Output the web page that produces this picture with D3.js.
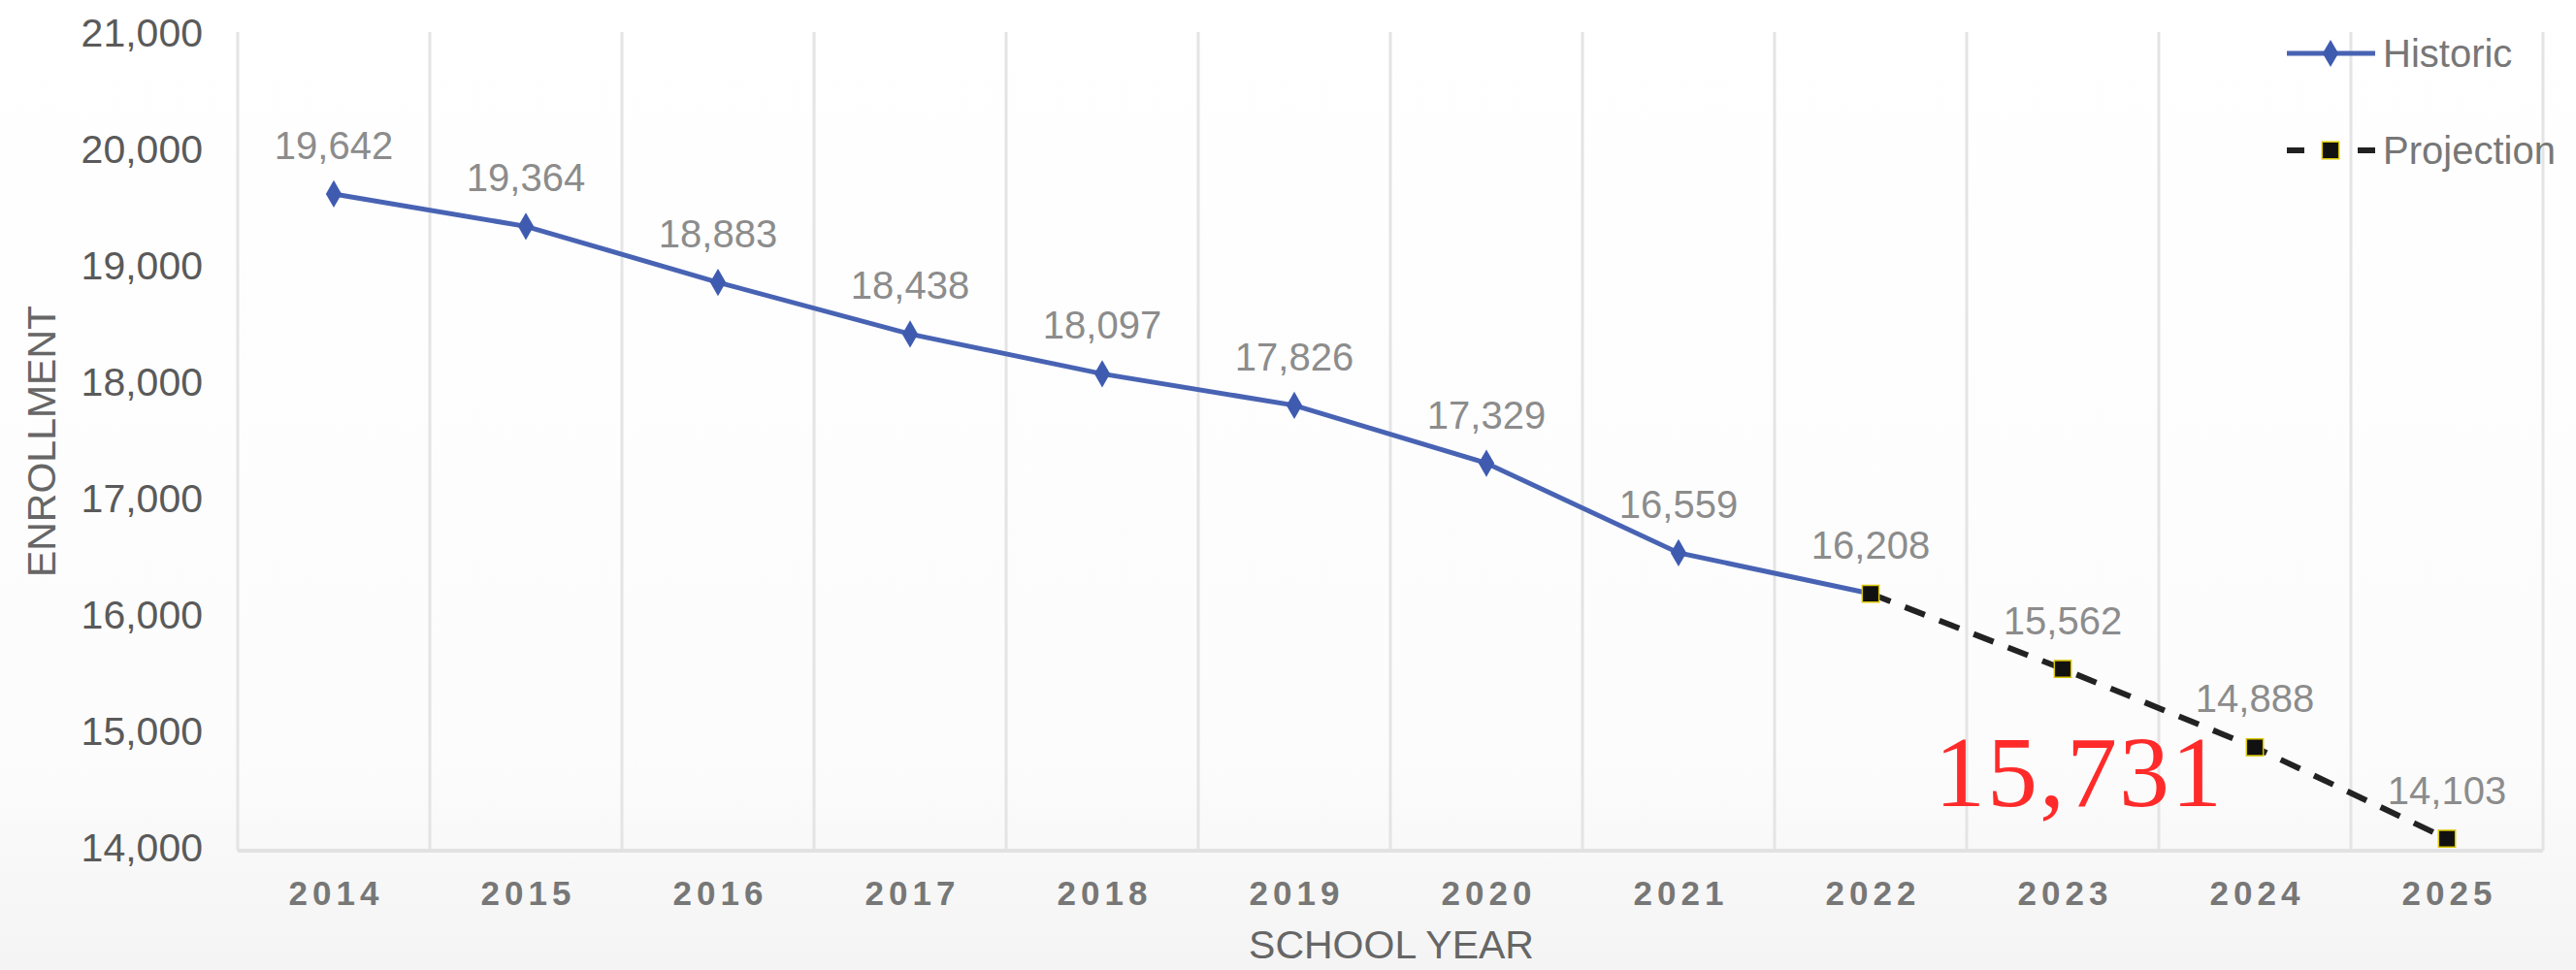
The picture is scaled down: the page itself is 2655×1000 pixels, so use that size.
<!DOCTYPE html>
<html>
<head>
<meta charset="utf-8">
<script src="https://cdn.jsdelivr.net/npm/d3@7"></script>
<style>
  body { margin: 0; background: #fff; }
  svg { display: block; }
</style>
</head>
<body>
<svg id="chart"></svg>
<script>
const years = ["2014", "2015", "2016", "2017", "2018", "2019", "2020", "2021", "2022", "2023", "2024", "2025"];
const historicYears = ["2014", "2015", "2016", "2017", "2018", "2019", "2020", "2021", "2022"];
const historicValues = [19642, 19364, 18883, 18438, 18097, 17826, 17329, 16559, 16208];
const projectionYears = ["2022", "2023", "2024", "2025"];
const projectionValues = [16208, 15562, 14888, 14103];
const yTicks = [14000, 15000, 16000, 17000, 18000, 19000, 20000, 21000];
const seriesNames = ["Historic", "Projection"];
const annotation = "15,731";

const width = 2655;
const height = 1000;
const margin = { top: 37, right: 34, bottom: 123, left: 245 };

const svg = d3.select("#chart").attr("width", width).attr("height", height);

// fond legerement grise vers le bas
const defs = svg.append("defs");
const grad = defs.append("linearGradient").attr("id", "bg").attr("x1", 0).attr("y1", 0).attr("x2", 0).attr("y2", 1);
grad.append("stop").attr("offset", "0%").attr("stop-color", "#ffffff");
grad.append("stop").attr("offset", "78%").attr("stop-color", "#fcfcfc");
grad.append("stop").attr("offset", "100%").attr("stop-color", "#f4f4f4");
svg.append("rect").attr("width", width).attr("height", height).attr("fill", "url(#bg)");

const x = d3.scaleBand()
  .domain(years)
  .range([margin.left, width - margin.right])
  .padding(0);

const y = d3.scaleLinear()
  .domain([14000, 21000])
  .range([height - margin.bottom, margin.top]);

const cx = (d) => x(d) + x.bandwidth() / 2;

// grille verticale (limites des categories)
const bounds = years.map((d) => x(d)).concat([x(years[years.length - 1]) + x.bandwidth()]);
svg.append("g")
  .selectAll("line")
  .data(bounds)
  .join("line")
  .attr("x1", (d) => d)
  .attr("x2", (d) => d)
  .attr("y1", y(21000) - 4)
  .attr("y2", y(14000))
  .attr("stroke", "#e4e4e4")
  .attr("stroke-width", 3);

svg.append("line")
  .attr("x1", margin.left)
  .attr("x2", width - margin.right)
  .attr("y1", y(14000))
  .attr("y2", y(14000))
  .attr("stroke", "#e2e2e2")
  .attr("stroke-width", 4);

// axe Y
const yAxis = svg.append("g")
  .attr("transform", `translate(${margin.left - 33},0)`)
  .call(d3.axisLeft(y).tickValues(yTicks).tickSize(0).tickFormat(d3.format(",")));
yAxis.select(".domain").remove();
yAxis.selectAll("text")
  .attr("font-family", "Liberation Sans, Arial, sans-serif")
  .attr("font-size", "41px")
  .attr("fill", "#5a5a5a")
  .attr("dy", "0.25em");

// axe X
const xAxis = svg.append("g")
  .attr("transform", `translate(0,${y(14000)})`)
  .call(d3.axisBottom(x).tickSize(0));
xAxis.select(".domain").remove();
xAxis.selectAll("text")
  .attr("font-family", "Liberation Sans, Arial, sans-serif")
  .attr("font-size", "35px")
  .attr("font-weight", "bold")
  .attr("letter-spacing", "5px")
  .attr("fill", "#777")
  .attr("y", 56)
  .attr("dy", 0)
  .attr("dx", "2.5px");

// titres des axes
svg.append("text")
  .attr("x", 1434)
  .attr("y", 988)
  .attr("text-anchor", "middle")
  .attr("font-family", "Liberation Sans, Arial, sans-serif")
  .attr("font-size", "41px")
  .attr("fill", "#666")
  .text("SCHOOL YEAR");

svg.append("text")
  .attr("transform", `translate(57,455) rotate(-90)`)
  .attr("text-anchor", "middle")
  .attr("font-family", "Liberation Sans, Arial, sans-serif")
  .attr("font-size", "41px")
  .attr("fill", "#666")
  .text("ENROLLMENT");

// series
const historic = historicYears.map((d, i) => ({ year: d, value: historicValues[i] }));
const projection = projectionYears.map((d, i) => ({ year: d, value: projectionValues[i] }));

const line = d3.line().x((d) => cx(d.year)).y((d) => y(d.value));

svg.append("path")
  .datum(historic)
  .attr("d", line)
  .attr("fill", "none")
  .attr("stroke", "#4863b3")
  .attr("stroke-width", 5);

svg.append("path")
  .datum(projection)
  .attr("d", line)
  .attr("fill", "none")
  .attr("stroke", "#222")
  .attr("stroke-width", 6)
  .attr("stroke-dasharray", "22,16");

const diamond = d3.symbol().type(d3.symbolDiamond).size(230);
const square = d3.symbol().type(d3.symbolSquare).size(300);

svg.append("g")
  .selectAll("path")
  .data(historic.slice(0, -1))
  .join("path")
  .attr("transform", (d) => `translate(${cx(d.year)},${y(d.value)})`)
  .attr("d", diamond)
  .attr("fill", "#3f5bb0");

svg.append("g")
  .selectAll("path")
  .data(projection)
  .join("path")
  .attr("transform", (d) => `translate(${cx(d.year)},${y(d.value)})`)
  .attr("d", square)
  .attr("fill", "#111")
  .attr("stroke", "#d9c500")
  .attr("stroke-width", 1.5);

// etiquettes des valeurs
const allPoints = historic.concat(projection.slice(1));
svg.append("g")
  .selectAll("text")
  .data(allPoints)
  .join("text")
  .attr("x", (d) => cx(d.year))
  .attr("y", (d) => y(d.value) - 36)
  .attr("text-anchor", "middle")
  .attr("font-family", "Liberation Sans, Arial, sans-serif")
  .attr("font-size", "40px")
  .attr("fill", "#8c8c8c")
  .text((d) => d3.format(",")(d.value));

// legende
const legend = svg.append("g");
const lx0 = 2357, lx1 = 2448, lmid = 2402;

legend.append("line")
  .attr("x1", lx0).attr("x2", lx1).attr("y1", 55).attr("y2", 55)
  .attr("stroke", "#4863b3").attr("stroke-width", 5);
legend.append("path")
  .attr("transform", `translate(${lmid},55)`)
  .attr("d", diamond)
  .attr("fill", "#3f5bb0");

legend.append("line")
  .attr("x1", lx0).attr("x2", lx1).attr("y1", 155).attr("y2", 155)
  .attr("stroke", "#222").attr("stroke-width", 6)
  .attr("stroke-dasharray", "18,55,18");
legend.append("path")
  .attr("transform", `translate(${lmid},155)`)
  .attr("d", square)
  .attr("fill", "#111")
  .attr("stroke", "#d9c500")
  .attr("stroke-width", 1.5);

legend.selectAll("text")
  .data(seriesNames)
  .join("text")
  .attr("x", 2456)
  .attr("y", (d, i) => 55 + i * 100)
  .attr("dy", "0.35em")
  .attr("font-family", "Liberation Sans, Arial, sans-serif")
  .attr("font-size", "40px")
  .attr("fill", "#777")
  .text((d) => d);

// annotation rouge
svg.append("text")
  .attr("x", 2143)
  .attr("y", 831)
  .attr("text-anchor", "middle")
  .attr("font-family", "Liberation Serif, Times New Roman, serif")
  .attr("font-size", "104px")
  .attr("letter-spacing", "2px")
  .attr("fill", "#ff2a2a")
  .text(annotation);
</script>
</body>
</html>
